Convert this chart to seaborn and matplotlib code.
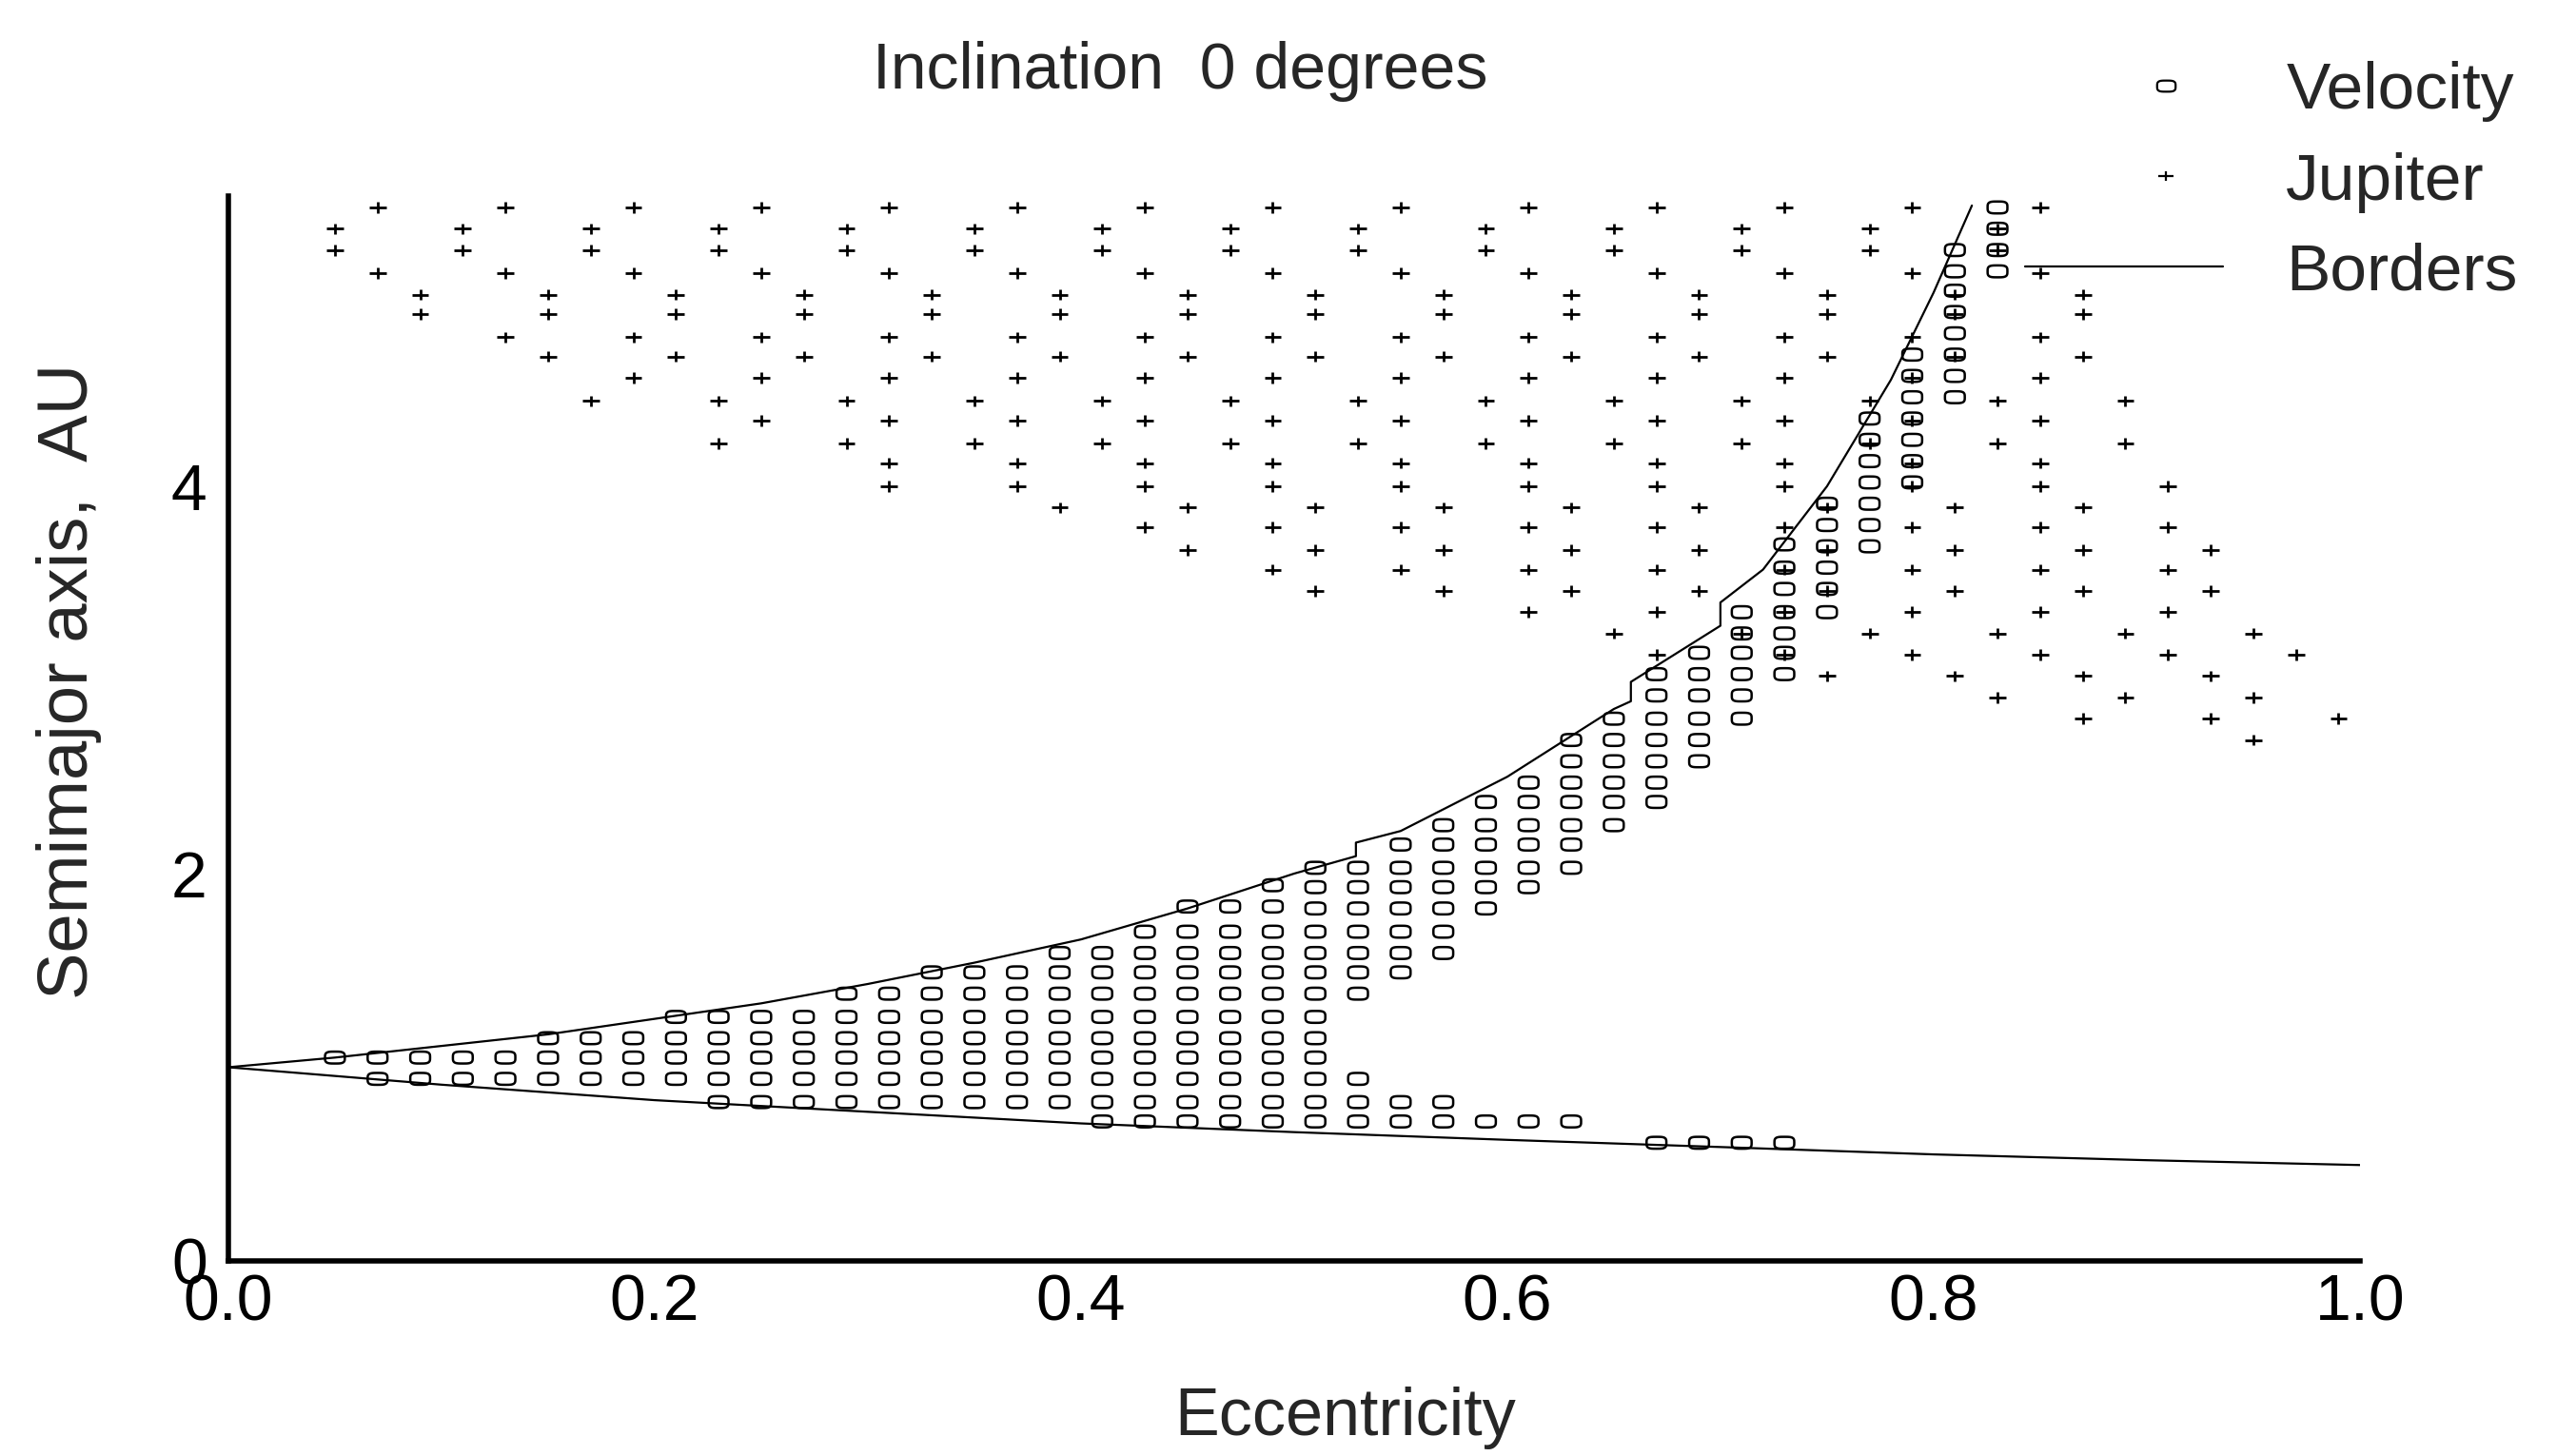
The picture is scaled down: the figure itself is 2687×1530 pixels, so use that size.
import numpy as np
import pandas as pd
import matplotlib
matplotlib.use("Agg")
import matplotlib.pyplot as plt
from matplotlib.path import Path
from matplotlib.lines import Line2D
from matplotlib.legend_handler import HandlerBase
from matplotlib.ticker import MultipleLocator, FormatStrFormatter
import seaborn as sns

# ---------------- data ----------------
velocity_e = [0.05, 0.07, 0.09, 0.11, 0.13, 0.15, 0.17, 0.19, 0.21, 0.23,
              0.25, 0.27, 0.29, 0.31, 0.33, 0.35, 0.37, 0.39, 0.41, 0.43,
              0.45, 0.47, 0.49, 0.51, 0.53, 0.55, 0.57, 0.59, 0.61, 0.63,
              0.65, 0.67, 0.69, 0.71, 0.73, 0.75, 0.77, 0.79, 0.81, 0.83]
velocity_a = [
    [1.05],
    [1.05, 0.94],
    [1.05, 0.94],
    [1.05, 0.94],
    [1.05, 0.94],
    [1.15, 1.05, 0.94],
    [1.15, 1.05, 0.94],
    [1.15, 1.05, 0.94],
    [1.26, 1.15, 1.05, 0.94],
    [1.26, 1.15, 1.05, 0.94, 0.82],
    [1.26, 1.15, 1.05, 0.94, 0.82],
    [1.26, 1.15, 1.05, 0.94, 0.82],
    [1.38, 1.26, 1.15, 1.05, 0.94, 0.82],
    [1.38, 1.26, 1.15, 1.05, 0.94, 0.82],
    [1.49, 1.38, 1.26, 1.15, 1.05, 0.94, 0.82],
    [1.49, 1.38, 1.26, 1.15, 1.05, 0.94, 0.82],
    [1.49, 1.38, 1.26, 1.15, 1.05, 0.94, 0.82],
    [1.59, 1.49, 1.38, 1.26, 1.15, 1.05, 0.94, 0.82],
    [1.59, 1.49, 1.38, 1.26, 1.15, 1.05, 0.94, 0.82, 0.72],
    [1.70, 1.59, 1.49, 1.38, 1.26, 1.15, 1.05, 0.94, 0.82, 0.72],
    [1.83, 1.70, 1.59, 1.49, 1.38, 1.26, 1.15, 1.05, 0.94, 0.82, 0.72],
    [1.83, 1.70, 1.59, 1.49, 1.38, 1.26, 1.15, 1.05, 0.94, 0.82, 0.72],
    [1.94, 1.83, 1.70, 1.59, 1.49, 1.38, 1.26, 1.15, 1.05, 0.94, 0.82, 0.72],
    [2.03, 1.93, 1.82, 1.70, 1.59, 1.49, 1.38, 1.26, 1.15, 1.05, 0.94, 0.82, 0.72],
    [2.03, 1.93, 1.82, 1.70, 1.59, 1.49, 1.38, 0.94, 0.82, 0.72],
    [2.15, 2.03, 1.93, 1.82, 1.70, 1.59, 1.49, 0.82, 0.72],
    [2.25, 2.15, 2.03, 1.93, 1.82, 1.70, 1.59, 0.82, 0.72],
    [2.37, 2.25, 2.15, 2.03, 1.93, 1.82, 0.72],
    [2.47, 2.37, 2.25, 2.15, 2.03, 1.93, 0.72],
    [2.69, 2.58, 2.47, 2.37, 2.25, 2.15, 2.03, 0.72],
    [2.80, 2.69, 2.58, 2.47, 2.37, 2.25],
    [3.03, 2.92, 2.80, 2.69, 2.58, 2.47, 2.37, 0.61],
    [3.14, 3.03, 2.92, 2.80, 2.69, 2.58, 0.61],
    [3.35, 3.24, 3.14, 3.03, 2.92, 2.80, 0.61],
    [3.70, 3.58, 3.47, 3.35, 3.24, 3.14, 3.03, 0.61],
    [3.91, 3.80, 3.69, 3.58, 3.47, 3.35],
    [4.35, 4.24, 4.13, 4.02, 3.91, 3.80, 3.69],
    [4.68, 4.57, 4.46, 4.35, 4.24, 4.13, 4.02],
    [5.22, 5.11, 5.01, 4.90, 4.79, 4.68, 4.57, 4.46],
    [5.44, 5.33, 5.22, 5.11],
]

jupiter_e = [0.05, 0.07, 0.09, 0.11, 0.13, 0.15, 0.17, 0.19, 0.21, 0.23,
             0.25, 0.27, 0.29, 0.31, 0.33, 0.35, 0.37, 0.39, 0.41, 0.43,
             0.45, 0.47, 0.49, 0.51, 0.53, 0.55, 0.57, 0.59, 0.61, 0.63,
             0.65, 0.67, 0.69, 0.71, 0.73, 0.75, 0.77, 0.79, 0.81, 0.83,
             0.85, 0.87, 0.89, 0.91, 0.93, 0.95, 0.97, 0.99]
jupiter_a = [
    [5.33, 5.22],
    [5.44, 5.10],
    [4.99, 4.89],
    [5.33, 5.22],
    [5.44, 5.10, 4.77],
    [4.99, 4.89, 4.67],
    [5.33, 5.22, 4.44],
    [5.44, 5.10, 4.77, 4.56],
    [4.99, 4.89, 4.67],
    [5.33, 5.22, 4.44, 4.22],
    [5.44, 5.10, 4.77, 4.56, 4.34],
    [4.99, 4.89, 4.67],
    [5.33, 5.22, 4.44, 4.22],
    [5.44, 5.10, 4.77, 4.56, 4.34, 4.12, 4.00],
    [4.99, 4.89, 4.67],
    [5.33, 5.22, 4.44, 4.22],
    [5.44, 5.10, 4.77, 4.56, 4.34, 4.12, 4.00],
    [4.99, 4.89, 4.67, 3.89],
    [5.33, 5.22, 4.44, 4.22],
    [5.44, 5.10, 4.77, 4.56, 4.34, 4.12, 4.00, 3.79],
    [4.99, 4.89, 4.67, 3.89, 3.67],
    [5.33, 5.22, 4.44, 4.22],
    [5.44, 5.10, 4.77, 4.56, 4.34, 4.12, 4.00, 3.79, 3.57],
    [4.99, 4.89, 4.67, 3.89, 3.67, 3.46],
    [5.33, 5.22, 4.44, 4.22],
    [5.44, 5.10, 4.77, 4.56, 4.34, 4.12, 4.00, 3.79, 3.57],
    [4.99, 4.89, 4.67, 3.89, 3.67, 3.46],
    [5.33, 5.22, 4.44, 4.22],
    [5.44, 5.10, 4.77, 4.56, 4.34, 4.12, 4.00, 3.79, 3.57, 3.35],
    [4.99, 4.89, 4.67, 3.89, 3.67, 3.46],
    [5.33, 5.22, 4.44, 4.22, 3.24],
    [5.44, 5.10, 4.77, 4.56, 4.34, 4.12, 4.00, 3.79, 3.57, 3.35, 3.13],
    [4.99, 4.89, 4.67, 3.89, 3.67, 3.46],
    [5.33, 5.22, 4.44, 4.22, 3.24],
    [5.44, 5.10, 4.77, 4.56, 4.34, 4.12, 4.00, 3.79, 3.57, 3.35, 3.13],
    [4.99, 4.89, 4.67, 3.89, 3.67, 3.46, 3.02],
    [5.33, 5.22, 4.44, 4.22, 3.24],
    [5.44, 5.10, 4.77, 4.56, 4.34, 4.12, 4.00, 3.79, 3.57, 3.35, 3.13],
    [4.99, 4.89, 4.67, 3.89, 3.67, 3.46, 3.02],
    [5.33, 5.22, 4.44, 4.22, 3.24, 2.91],
    [5.44, 5.10, 4.77, 4.56, 4.34, 4.12, 4.00, 3.79, 3.57, 3.35, 3.13],
    [4.99, 4.89, 4.67, 3.89, 3.67, 3.46, 3.02, 2.80],
    [4.44, 4.22, 3.24, 2.91],
    [4.00, 3.79, 3.57, 3.35, 3.13],
    [3.67, 3.46, 3.02, 2.80],
    [3.24, 2.91, 2.69],
    [3.13],
    [2.80],
]

border_upper_e = [0.00, 0.05, 0.10, 0.15, 0.20, 0.25, 0.30, 0.35, 0.40, 0.45,
                  0.50, 0.529, 0.529, 0.55, 0.60, 0.65, 0.658, 0.658, 0.70,
                  0.70, 0.72, 0.75, 0.78, 0.80, 0.818]
border_upper_a = [1.00, 1.05, 1.11, 1.17, 1.25, 1.33, 1.43, 1.54, 1.66, 1.82,
                  2.00, 2.09, 2.16, 2.22, 2.50, 2.85, 2.89, 2.99, 3.28,
                  3.40, 3.57, 4.00, 4.55, 5.00, 5.45]
border_lower_e = [0.00, 0.10, 0.20, 0.30, 0.40, 0.50, 0.60, 0.70, 0.80, 0.90, 1.00]
border_lower_a = [1.00, 0.91, 0.83, 0.77, 0.71, 0.665, 0.625, 0.588, 0.55, 0.52, 0.495]

legend_labels = ["Velocity", "Jupiter", "Borders"]

# ---------------- tables ----------------
vel_df = pd.DataFrame({
    "e": [e for e, col in zip(velocity_e, velocity_a) for _ in col],
    "a": [v for col in velocity_a for v in col],
})
jup_df = pd.DataFrame({
    "e": [e for e, col in zip(jupiter_e, jupiter_a) for _ in col],
    "a": [v for col in jupiter_a for v in col],
})
bord_df = pd.concat([
    pd.DataFrame({"e": border_upper_e, "a": border_upper_a, "part": "upper"}),
    pd.DataFrame({"e": border_lower_e, "a": border_lower_a, "part": "lower"}),
], ignore_index=True)

# ---------------- marker shapes ----------------
t = np.linspace(0, 2 * np.pi, 48, endpoint=False)
cx, sx = np.cos(t), np.sin(t)
ring_verts = np.c_[np.sign(cx) * np.abs(cx) ** 0.55,
                   0.60 * np.sign(sx) * np.abs(sx) ** 0.55]
ring_marker = Path(np.vstack([ring_verts, ring_verts[:1]]), closed=True)
plus_marker = Path([(-1, 0), (1, 0), (0, -0.65), (0, 0.65)],
                   [Path.MOVETO, Path.LINETO, Path.MOVETO, Path.LINETO])


class OffsetMarkerHandler(HandlerBase):
    """Legend handler drawing one marker to the right of the handle centre."""
    def create_artists(self, legend, orig_handle, xdescent, ydescent,
                       width, height, fontsize, trans):
        x = -xdescent + 0.71 * width
        y = -ydescent + 0.5 * height
        m = Line2D([x], [y])
        self.update_prop(m, orig_handle, legend)
        m.set_linestyle("none")
        m.set_transform(trans)
        return [m]


# ---------------- style ----------------
sns.set_style("white")
plt.rcParams["font.family"] = ["Liberation Sans", "DejaVu Sans"]
FS = 49

fig = plt.figure(figsize=(26.87, 15.30), dpi=100)
ax = fig.add_axes([0.0893, 0.1340, 0.8336, 0.7315])

sns.lineplot(data=bord_df, x="e", y="a", units="part", estimator=None, sort=False,
             color="black", linewidth=1.6, ax=ax, legend=False)
sns.scatterplot(data=vel_df, x="e", y="a", marker=ring_marker, s=225,
                color="black", facecolor="none", edgecolor="black",
                linewidth=1.8, ax=ax, legend=False, zorder=3)
sns.scatterplot(data=jup_df, x="e", y="a", marker=plus_marker, s=165,
                color="black", facecolor="none", edgecolor="black",
                linewidth=2.0, ax=ax, legend=False, zorder=3)

ax.set_xlim(0, 1.0)
ax.set_ylim(0, 5.5)
ax.xaxis.set_major_locator(MultipleLocator(0.2))
ax.xaxis.set_minor_locator(MultipleLocator(0.1))
ax.xaxis.set_major_formatter(FormatStrFormatter("%.1f"))
ax.yaxis.set_major_locator(MultipleLocator(2))
ax.yaxis.set_minor_locator(MultipleLocator(1))
ax.yaxis.set_major_formatter(FormatStrFormatter("%d"))

for side in ["top", "right"]:
    ax.spines[side].set_visible(False)
for side in ["left", "bottom"]:
    ax.spines[side].set_linewidth(4.0)
    ax.spines[side].set_color("black")

ax.tick_params(axis="x", which="major", direction="in", length=17, width=2.8,
               labelsize=FS, pad=9, colors="black")
ax.tick_params(axis="x", which="minor", direction="in", length=10, width=2.8)
ax.tick_params(axis="y", which="major", direction="in", length=25, width=2.8,
               labelsize=FS, pad=16, colors="black")
ax.tick_params(axis="y", which="minor", direction="in", length=13, width=2.8)
ax.set_xlabel("")
ax.set_ylabel("")

fig.text(0.4614, 0.951, "Inclination  0 degrees", fontsize=FS, ha="center", va="center")
fig.text(0.526, 0.026, "Eccentricity", fontsize=50.5, ha="center", va="center")
fig.text(0.0268, 0.532, "Semimajor axis,  AU", fontsize=53.5, ha="center", va="center",
         rotation=90)

h_vel = Line2D([], [], linestyle="none", marker=ring_marker, markersize=14,
               markerfacecolor="none", markeredgecolor="black", markeredgewidth=1.6)
h_jup = Line2D([], [], linestyle="none", marker=plus_marker, markersize=11,
               markerfacecolor="none", markeredgecolor="black", markeredgewidth=1.6)
h_bord = Line2D([], [], color="black", linewidth=1.6)
fig.legend([h_vel, h_jup, h_bord], legend_labels, loc="upper left",
           bbox_to_anchor=(2128 / 2687, 0.958), fontsize=50, frameon=False,
           handlelength=3.0, handletextpad=0.95, labelspacing=0.45,
           borderpad=0, borderaxespad=0,
           handler_map={h_vel: OffsetMarkerHandler(), h_jup: OffsetMarkerHandler()})

fig.savefig("out.png", dpi=100, facecolor="white")
